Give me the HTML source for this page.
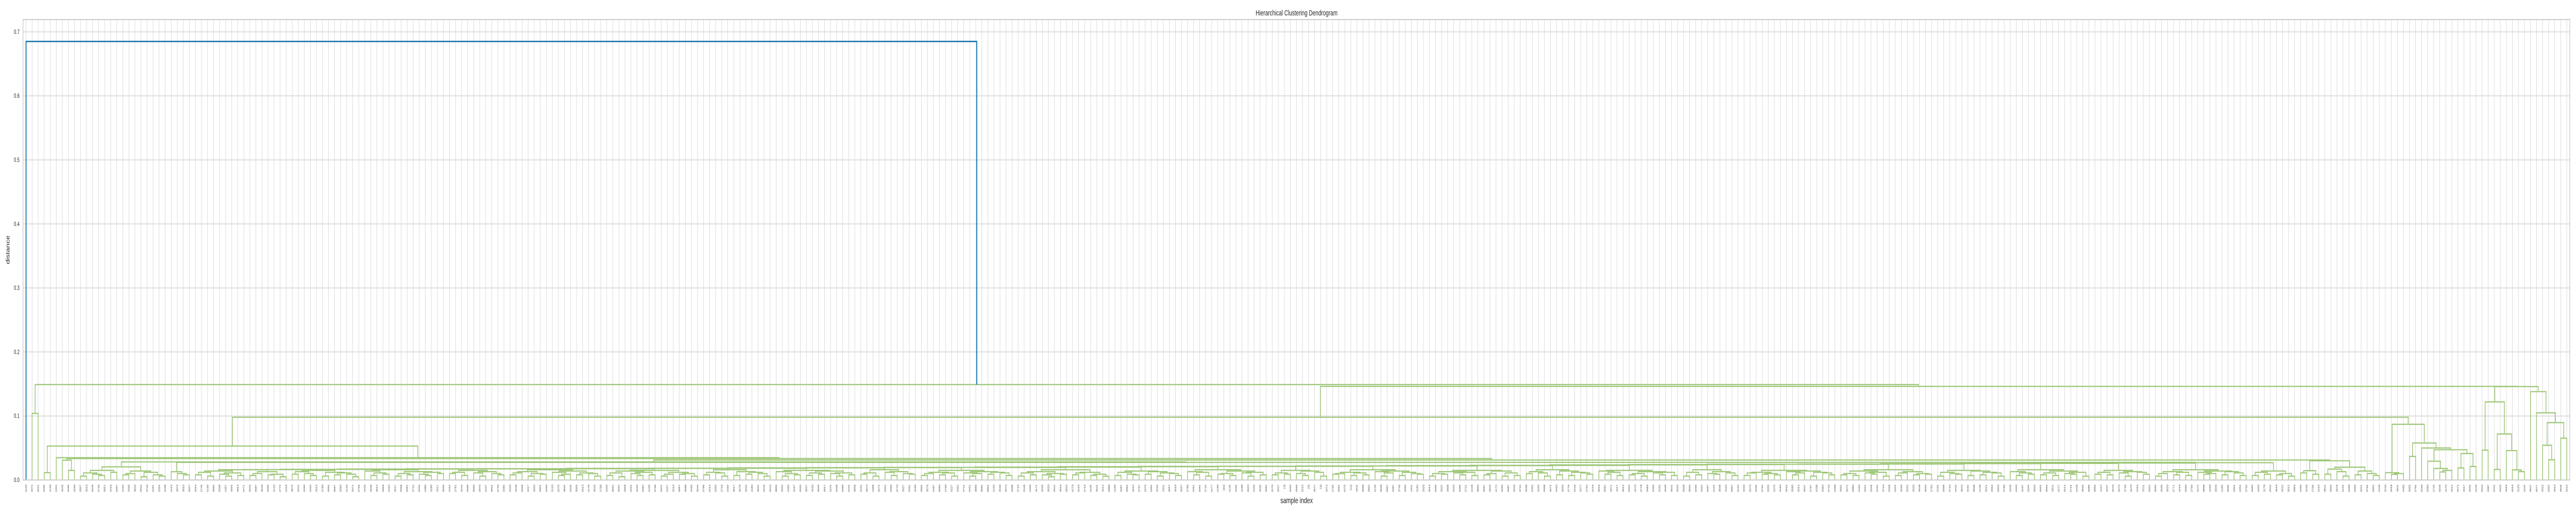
<!DOCTYPE html>
<html><head><meta charset="utf-8"><style>
html,body{margin:0;padding:0;background:#fff;width:100%;height:100%;overflow:hidden;}
svg{display:block;position:absolute;left:0;top:0;width:100vw;height:100vh;font-family:"Liberation Sans",sans-serif;}
</style></head><body>
<svg id="chart" viewBox="0 0 7500 1000" preserveAspectRatio="none" overflow="hidden" xmlns="http://www.w3.org/2000/svg">
<rect x="0" y="0" width="7500" height="1000" fill="#ffffff"/>
<g id="grid"></g>
<g id="links"></g>
<rect x="67" y="38" width="7415" height="894" fill="none" stroke="#cccccc" stroke-width="2"/>
<g id="yticks"></g>
<g id="xticks"></g>
<text x="3775" y="30" font-size="15" fill="#262626" text-anchor="middle">Hierarchical Clustering Dendrogram</text>
<text x="3775" y="977" font-size="16" fill="#262626" text-anchor="middle">sample index</text>
<text x="0" y="0" font-size="15" fill="#262626" text-anchor="middle" transform="translate(28,485) rotate(-90)">distance</text>
</svg>
<script>
// ---- data ----
const yTicks = [0.0, 0.1, 0.2, 0.3, 0.4, 0.5, 0.6, 0.7];
const yTickLabels = ["0.0","0.1","0.2","0.3","0.4","0.5","0.6","0.7"];
const leafLabels = [
"4125","4074","4031","4205","4130","1001","4645","3496","4230","2807","3019","2649","2735","3051","4418","4657","4162","3396","3820","2931",
"3740","4281","2654","3108","4412","2879","3563","4027","3315","2746","4190","3682","2998","4357","3204","2813","4471","3926","2687","3549",
"4066","3133","2772","4318","3875","2941","3460","4203","2619","3789","4554","3057","2890","4126","3371","2705","4439","3648","3012","2856",
"4293","3517","2968","4081","3722","2634","4380","3189","2917","3606","4152","2781","3444","4509","3066","2843","4237","3901","2726","3385",
"4620","3248","2959","4017","3693","2801","4466","3120","2675","3834","4345","3006","2913","4178","3529","2758","4403","3661","3091","2868",
"4261","3432","2982","4109","3758","2641","4327","3216","2897","3588","4496","3044","2795","4214","3365","2729","4452","3917","3078","2834",
"4183","3501","2946","4043","3805","2662","4369","3157","2925","3637","4530","3029","2817","4242","3408","2689","4424","3858","3101","2873",
"4308","3474","2991","4095","3770","2627","4391","3199","2904","3576","4487","3050","2768","4227","3352","2741","4461","3889","3084","2851",
"4156","3538","2973","4058","3716","2648","4336","3171","2936","3620","4541","3016","2826","4270","3419","2713","4435","3942","3112","2888",
"4199","3487","2952","4012","3797","2670","4354","3226","2911","3597","4519","3037","2789","4251","3391","2734","4477",
"4190","(34)","4145","4465","4168","3623","4336","3035","3581","3175","3427","(3)","3402","4596","2516","(5)","3577","(3)","3472","2765","3251","4375","(11)",
"3911","3068","2862","4139","3528","2957","4087","3749","2655","4311","3183","2929","3614","4506","3022","2808","4223","3396","2721","4448",
"3866","3097","2845","4172","3455","2987","4049","3731","2638","4362","3205","2908","3571","4493","3059","2776","4246","3377","2752","4419",
"3933","3081","2871","4117","3512","2964","4070","3778","2683","4300","3162","2939","3641","4525","3008","2820","4265","3402","2697","4431",
"3848","3115","2857","4131","3496","2979","4036","3764","2659","4375","3193","2915","3585","4514","3047","2797","4208","3383","2743","4458",
"3902","3072","2883","4163","3461","2948","4101","3710","2668","4322","3230","2922","3629","4548","3025","2782","4234","3358","2716","4442",
"3879","3104","2838","4148","3521","2993","4023","3786","2645","4340","3167","2934","3603","4501","3063","2811","4277","3414","2731","4428",
"3925","3089","2866","4112","3447","2970","4079","3739","2679","4316","3211","2901","3592","4536","3033","2771","4219","3369","2760","4474",
"3858","3118","2849","4185","3505","2961","4054","3792","2693","4333","3178","2944","3618","4522","3012","2803","4256","3436","2706","4415",
"3941","3094","2878","4124","3468","2985","4041","3754","2651","4348","3240","2918","3611","4489","3055","2794","4239","3390","2725",
"4045","4170","4512","3471","4617","3934","4249","2043","3387","4241","4029","4619","4616","3120","4244","2847","3077","4522","2902","4613","2845","4615"
];
const chainBlocks = [
"((((*,*).008,(*,*).006).012,((*,(*,*).006).009,(*,*).007).011).014,(((*,*).007,*).010,((*,*).008,(*,*).005).009).013).016",
"(((*,*).009,(*,(*,*).007).010).013,((*,*).006,((*,*).008,(*,(*,*).005).009).011).012).015",
"((*,((*,*).007,(*,*).009).011).014,(((*,*).006,(*,*).008).010,((*,(*,*).007).009,(*,*).010).012).013).016",
"(((*,*).010,(*,*).007).012,((*,(*,*).006).011,(*,(*,*).008).010).013).015",
"((((*,*).008,*).011,((*,*).006,(*,*).009).010).013,((*,((*,*).007,*).009).012,((*,*).008,(*,(*,*).006).010).011).014).016",
"((((*,*).007,(*,*).005).011,((*,(*,*).007).010,(*,*).008).012).014,(((*,*).006,*).009,((*,*).009,(*,*).006).010).012).015",
"(((*,*).008,(*,(*,*).006).011).012,((*,*).007,((*,*).009,(*,(*,*).006).010).012).013).016",
"((*,((*,*).006,(*,*).008).010).013,(((*,*).007,(*,*).009).011,((*,(*,*).006).010,(*,*).008).011).014).015",
"(((*,*).009,(*,*).006).011,((*,(*,*).007).012,(*,(*,*).009).010).013).016",
"((((*,*).007,*).010,((*,*).008,(*,*).006).011).012,((*,((*,*).006,*).010).011,((*,*).009,(*,(*,*).007).011).012).013).015",
"((((*,*).006,(*,*).008).011,((*,(*,*).005).008,(*,*).009).010).013,(((*,*).008,*).011,((*,*).007,(*,*).006).009).012).016",
"(((*,*).007,(*,(*,*).008).009).012,((*,*).009,((*,*).006,(*,(*,*).007).010).011).013).014",
"((*,((*,*).008,(*,*).006).012).013,(((*,*).009,(*,*).007).010,((*,(*,*).006).011,(*,*).008).012).014).016",
"(((*,*).008,(*,*).009).011,((*,(*,*).007).010,(*,(*,*).006).012).014).015",
"((((*,*).009,*).010,((*,*).007,(*,*).008).011).012,((*,((*,*).006,*).011).013,((*,*).007,(*,(*,*).009).010).012).014).016",
"((((*,*).006,(*,*).009).010,((*,(*,*).008).011,(*,*).007).012).013,(((*,*).008,*).010,((*,*).006,(*,*).007).011).014).015",
"(((*,*).010,(*,(*,*).006).011).013,((*,*).008,((*,*).007,(*,(*,*).009).011).012).014).016",
"((*,((*,*).009,(*,*).007).012).014,(((*,*).008,(*,*).006).010,((*,(*,*).008).011,(*,*).007).012).013).015",
"(((*,*).006,(*,*).008).012,((*,(*,*).009).010,(*,(*,*).007).011).013).016",
"((((*,*).007,*).011,((*,*).009,(*,*).008).010).012,((*,((*,*).008,*).011).013,((*,*).006,(*,(*,*).008).011).012).014).015",
"((((*,*).008,(*,*).007).010,((*,(*,*).009).011,(*,*).006).012).014,(((*,*).007,*).011,((*,*).008,(*,*).009).010).013).016",
"(((*,*).006,(*,(*,*).009).010).012,((*,*).007,((*,*).008,(*,(*,*).006).011).012).014).015",
"((*,((*,*).007,(*,*).009).011).013,(((*,*).008,(*,*).007).011,((*,(*,*).009).010,(*,*).006).012).014).016",
"(((*,*).009,(*,*).008).012,((*,(*,*).006).011,(*,(*,*).009).012).013).015",
"((((*,*).006,*).010,((*,*).008,(*,*).007).012).013,((*,((*,*).009,*).010).012,((*,*).008,(*,(*,*).007).011).013).014).016",
"(((*,*).007,(*,*).009).012,((*,*).008,(*,*).006).010).014"
];
const chainHeights = [0.0162,0.0166,0.0171,0.0174,0.0176,0.0181,0.0183,0.0189,0.0193,0.0196,0.0201,0.0207,0.0212,0.0214,0.0219,0.0224,0.0228,0.0236,0.0241,0.0246,0.0249,0.0255,0.0259,0.0264,0.0270];
const treeSpec = "(*,((*,*).104,((((*,*).0114,(*,((*,(*,*).015).031,((((((*,*).006,(*,(*,*).007).009).011,(*,*).012).015,(((*,*).008,*).010,((*,*).005,(*,(*,*).006).008).012).014).0205,((*,(*,(*,*).008).010).0129,BIG).0275).0282,(((*,*).011,(*,*).009).0145,(((*,*).009,(*,(*,*).006).013).017,((*,*).008,(*,(*,*).007).010).014).020).030).0312).0335).0348).053,((*,((*,*).0087,*).010).0114,((*,*).0368,(*,((*,(*,((*,*).0125,*).015).018).0293,((*,*).0187,(*,*).021).0413).0472).050).0577).087).098,(((*,*).0466,((*,*).0164,(*,(*,(*,*).0131).0158).0459).0719).122,(*,(*,((*,(*,*).0316).0542,(*,*).0654).0896).1049).138).1459).1462).149).685";

// ---- build ----
let big = chainBlocks[0];
for (let k = 1; k < chainBlocks.length; k++) big = "(" + big + "," + chainBlocks[k] + ")" + chainHeights[k - 1];
const spec = treeSpec.replace("BIG", big);

let pos = 0;
function parse() {
  if (spec[pos] === "*") { pos++; return { leaf: true }; }
  pos++;
  const a = parse(); pos++;
  const b = parse(); pos++;
  let s = pos;
  while (pos < spec.length && /[0-9.]/.test(spec[pos])) pos++;
  return { leaf: false, a: a, b: b, h: parseFloat(spec.slice(s, pos)) };
}
const root = parse();

const X0 = 67, X1 = 7482, Y0 = 932, YT = 38, YMAX = 0.7192;
function yAxis(d) { return Y0 - d / YMAX * (Y0 - YT); }
let N = 0;
(function count(n) { if (n.leaf) N++; else { count(n.a); count(n.b); } })(root);
function xAxis(i) { return X0 + (i + 0.5) * (X1 - X0) / N; }

const NS = "http://www.w3.org/2000/svg";
const grid = document.getElementById("grid");
const links = document.getElementById("links");
const xt = document.getElementById("xticks");
const yt = document.getElementById("yticks");

for (let i = 0; i < N; i++) {
  const l = document.createElementNS(NS, "line");
  l.setAttribute("x1", xAxis(i)); l.setAttribute("x2", xAxis(i));
  l.setAttribute("y1", YT); l.setAttribute("y2", Y0);
  l.setAttribute("stroke", "#d4d4d4"); l.setAttribute("stroke-width", "1.2");
  
  
  grid.appendChild(l);
  const t = document.createElementNS(NS, "text");
  const lx = xAxis(i) + 2.2;
  t.setAttribute("transform", "translate(" + lx + ",941) rotate(-90)");
  t.setAttribute("text-anchor", "end");
  t.setAttribute("font-size", "6.5");
  t.setAttribute("fill", "#444");
  t.textContent = leafLabels[i] !== undefined ? leafLabels[i] : "";
  
  
  xt.appendChild(t);
}
yTicks.forEach(function (v, k) {
  const y = yAxis(v);
  const l = document.createElementNS(NS, "line");
  l.setAttribute("x1", X0); l.setAttribute("x2", X1);
  l.setAttribute("y1", y); l.setAttribute("y2", y);
  l.setAttribute("stroke", "#d4d4d4"); l.setAttribute("stroke-width", "1.5");
  
  
  grid.appendChild(l);
  const t = document.createElementNS(NS, "text");
  t.setAttribute("x", 57); t.setAttribute("y", y + 4);
  t.setAttribute("text-anchor", "end");
  t.setAttribute("font-size", "12");
  t.setAttribute("fill", "#262626");
  t.textContent = yTickLabels[k];
  
  
  yt.appendChild(t);
});

let leafIdx = 0;
const threshold = 0.7 * root.h;
function layout(n) {
  if (n.leaf) { n.x = xAxis(leafIdx++); n.h = 0; return; }
  layout(n.a); layout(n.b);
  n.x = (n.a.x + n.b.x) / 2;
  const p = document.createElementNS(NS, "path");
  const yh = yAxis(n.h);
  p.setAttribute("d", "M" + n.a.x + "," + yAxis(n.a.h) + "V" + yh + "H" + n.b.x + "V" + yAxis(n.b.h));
  p.setAttribute("fill", "none");
  const blue = n.h > threshold;
  p.setAttribute("stroke", blue ? "#0a6faa" : "#9cc675");
  p.setAttribute("stroke-width", blue ? "2.6" : "2.2");
  
  
  links.appendChild(p);
}
layout(root);
</script>
</body></html>
